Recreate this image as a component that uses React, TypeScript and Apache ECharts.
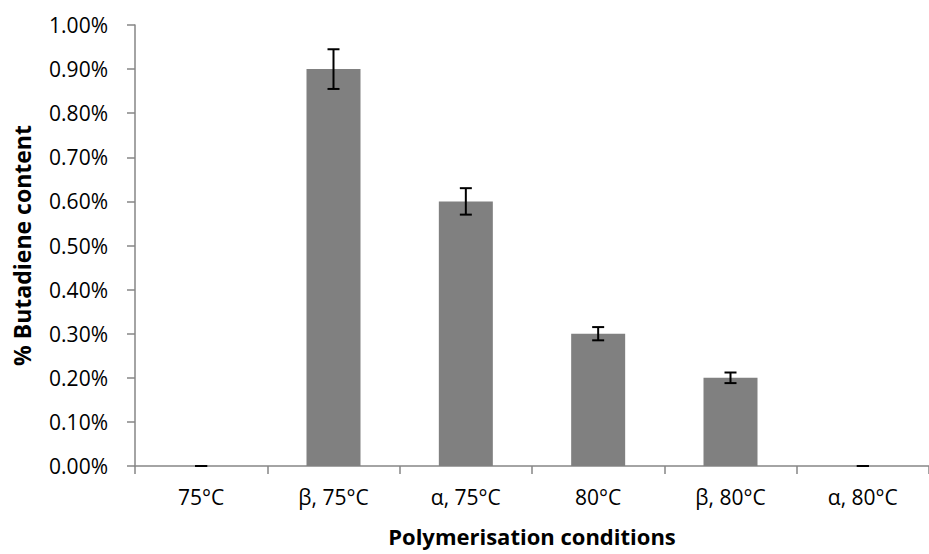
import React, { useEffect, useRef } from "react";
import * as echarts from "echarts";

const categories = ["75°C", "β, 75°C", "α, 75°C", "80°C", "β, 80°C", "α, 80°C"];
const values = [0, 0.9, 0.6, 0.3, 0.2, 0];
const errors = [0, 0.045, 0.03, 0.015, 0.012, 0];
const yTicksMin = 0;
const yTicksMax = 1;
const yTickStep = 0.1;

const FONT = "'Open Sans', 'Liberation Sans', sans-serif";

export default function App() {
  const ref = useRef<HTMLDivElement>(null);
  useEffect(() => {
    document.body.style.margin = "0";
    if (!ref.current) return;
    const chart = echarts.init(ref.current, null, { renderer: "svg" });
    const axisColor = "#868686";
    chart.setOption({
      animation: false,
      textStyle: { fontFamily: FONT },
      grid: { left: 135, top: 25, bottom: 88, right: -9, containLabel: false },
      xAxis: {
        type: "category",
        data: categories,
        axisLine: { lineStyle: { color: axisColor, width: 1.5 } },
        axisTick: { show: true, length: 8, interval: 0, lineStyle: { color: axisColor, width: 1.5 } },
        axisLabel: { color: "#000", fontSize: 21, fontFamily: FONT, margin: 20, interval: 0 },
        name: "Polymerisation conditions",
        nameLocation: "middle",
        nameGap: 59,
        nameTextStyle: { color: "#000", fontSize: 22, fontWeight: "bold", fontFamily: FONT },
      },
      yAxis: {
        type: "value",
        min: yTicksMin,
        max: yTicksMax,
        interval: yTickStep,
        splitLine: { show: false },
        axisLine: { show: true, lineStyle: { color: axisColor, width: 1.5 } },
        axisTick: { show: true, length: 8, lineStyle: { color: axisColor, width: 1.5 } },
        axisLabel: {
          color: "#000",
          fontSize: 21,
          fontFamily: FONT,
          margin: 27,
          formatter: (v: number) => v.toFixed(2) + "%",
        },
        name: "% Butadiene content",
        nameLocation: "middle",
        nameGap: 102,
        nameTextStyle: { color: "#000", fontSize: 23, fontWeight: "bold", fontFamily: FONT },
      },
      series: [
        {
          type: "bar",
          data: values,
          barWidth: 54,
          itemStyle: { color: "#808080" },
        },
        {
          type: "custom",
          data: values.map((v, i) => [i, v, errors[i]]),
          encode: { x: 0, y: 1 },
          z: 10,
          renderItem: (params: any, api: any) => {
            const x = api.value(0);
            const v = api.value(1);
            const e = api.value(2);
            const hi = api.coord([x, v + e]);
            const lo = api.coord([x, v - e]);
            const hw = 6;
            const style = { stroke: "#000", lineWidth: 2 };
            return {
              type: "group",
              children: [
                { type: "line", shape: { x1: hi[0], y1: hi[1], x2: lo[0], y2: lo[1] }, style },
                { type: "line", shape: { x1: hi[0] - hw, y1: hi[1], x2: hi[0] + hw, y2: hi[1] }, style },
                { type: "line", shape: { x1: lo[0] - hw, y1: lo[1], x2: lo[0] + hw, y2: lo[1] }, style },
              ],
            };
          },
        },
      ],
    });
    return () => chart.dispose();
  }, []);
  return <div ref={ref} style={{ width: 929, height: 554 }} />;
}
